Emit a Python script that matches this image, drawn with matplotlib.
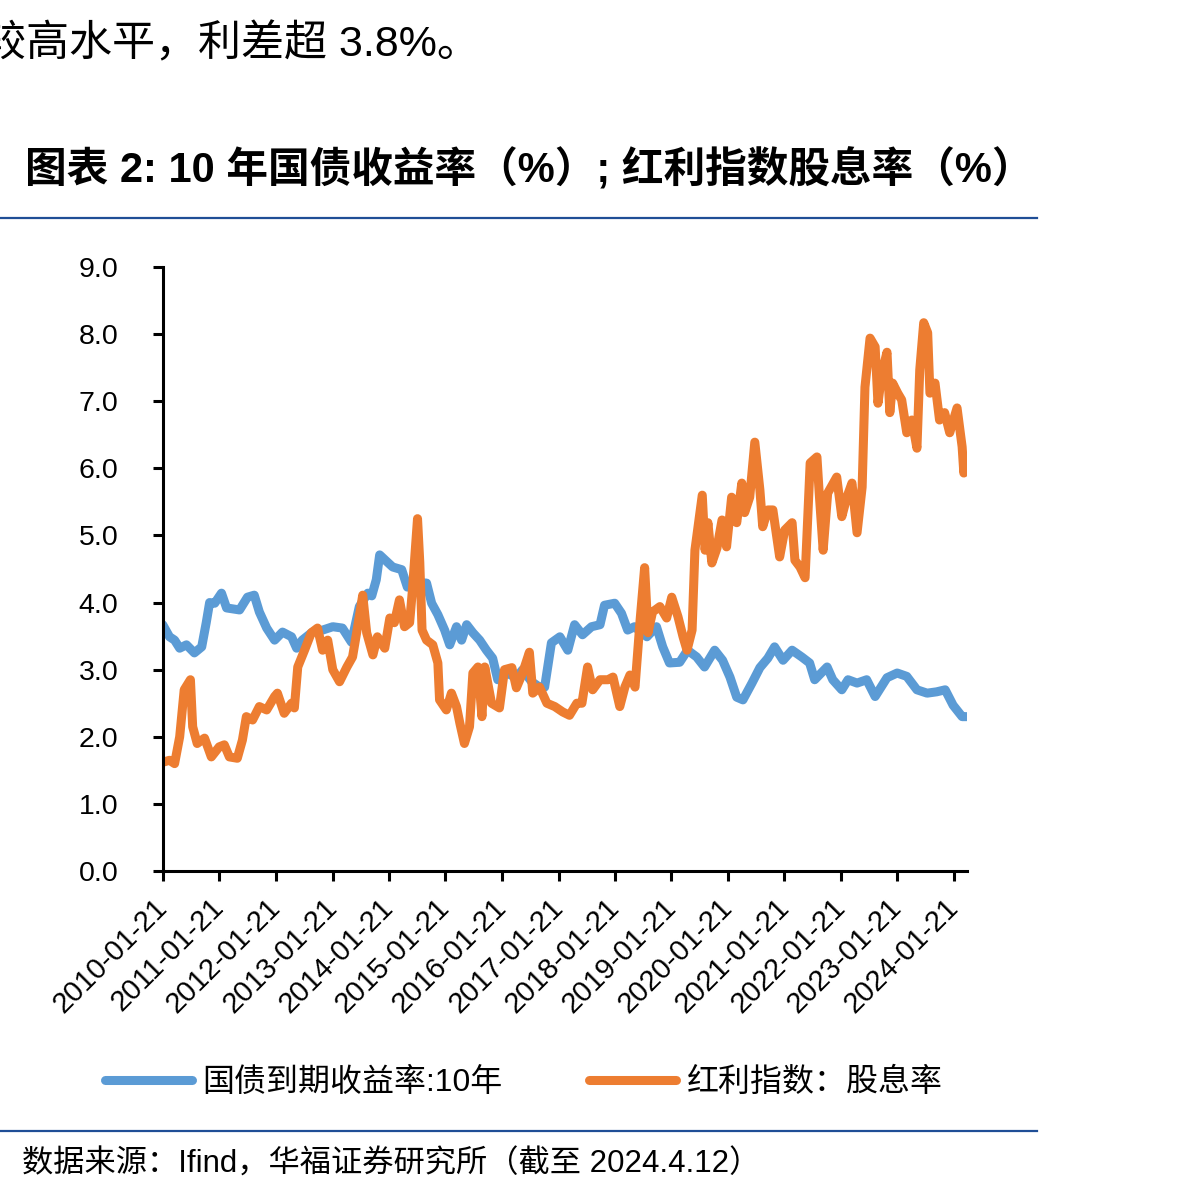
import numpy as np
import pandas as pd
import matplotlib
matplotlib.use('Agg')
import matplotlib.pyplot as plt
from matplotlib.lines import Line2D

plt.rcParams['font.family'] = ['Liberation Sans', 'Noto Sans CJK SC', 'DejaVu Sans']

# 10y government bond yield (decimal year, %)
bond_t = [2010.05, 2010.17, 2010.26, 2010.35, 2010.47, 2010.61, 2010.74, 2010.82, 2010.88, 2010.97,
          2011.09, 2011.18, 2011.41, 2011.55, 2011.67, 2011.76, 2011.89, 2012.03, 2012.17, 2012.33,
          2012.42, 2012.52, 2012.70, 2012.88, 2013.06, 2013.23, 2013.39, 2013.53, 2013.68, 2013.75,
          2013.83, 2013.89, 2014.03, 2014.12, 2014.28, 2014.38, 2014.53, 2014.72, 2014.81, 2014.92,
          2015.04, 2015.13, 2015.25, 2015.34, 2015.43, 2015.54, 2015.66, 2015.78, 2015.89, 2015.98,
          2016.14, 2016.31, 2016.42, 2016.58, 2016.72, 2016.81, 2016.93, 2017.08, 2017.22, 2017.34,
          2017.48, 2017.64, 2017.79, 2017.87, 2018.05, 2018.17, 2018.28, 2018.40, 2018.62, 2018.79,
          2018.90, 2019.02, 2019.20, 2019.34, 2019.50, 2019.64, 2019.82, 2019.96, 2020.09, 2020.21,
          2020.32, 2020.48, 2020.62, 2020.76, 2020.88, 2021.03, 2021.19, 2021.36, 2021.50, 2021.59,
          2021.81, 2021.91, 2022.07, 2022.18, 2022.34, 2022.51, 2022.66, 2022.87, 2023.05, 2023.22,
          2023.40, 2023.58, 2023.75, 2023.90, 2024.04, 2024.20, 2024.28]
bond_v = [3.67, 3.49, 3.44, 3.32, 3.37, 3.25, 3.34, 3.70, 4.00, 3.99,
          4.14, 3.92, 3.89, 4.08, 4.11, 3.86, 3.62, 3.44, 3.56, 3.49,
          3.32, 3.44, 3.56, 3.59, 3.64, 3.62, 3.41, 3.94, 4.14, 4.10,
          4.34, 4.71, 4.60, 4.53, 4.49, 4.23, 4.30, 4.29, 3.99, 3.82,
          3.59, 3.37, 3.64, 3.44, 3.67, 3.55, 3.44, 3.29, 3.17, 2.85,
          2.95, 2.88, 3.00, 2.82, 2.74, 2.74, 3.40, 3.49, 3.29, 3.67,
          3.52, 3.64, 3.67, 3.96, 3.99, 3.84, 3.59, 3.64, 3.49, 3.64,
          3.34, 3.10, 3.11, 3.29, 3.19, 3.04, 3.29, 3.14, 2.89, 2.59,
          2.55, 2.80, 3.03, 3.17, 3.34, 3.14, 3.29, 3.19, 3.10, 2.85,
          3.04, 2.85, 2.70, 2.85, 2.80, 2.85, 2.60, 2.88, 2.95, 2.90,
          2.70, 2.65, 2.67, 2.70, 2.47, 2.30, 2.30]

# dividend index dividend yield (decimal year, %)
div_t = [2010.05, 2010.17, 2010.26, 2010.35, 2010.43, 2010.54, 2010.58, 2010.66, 2010.79, 2010.91,
         2011.05, 2011.14, 2011.23, 2011.37, 2011.46, 2011.53, 2011.64, 2011.76, 2011.89, 2012.03,
         2012.08, 2012.20, 2012.33, 2012.38, 2012.44, 2012.56, 2012.68, 2012.79, 2012.88, 2012.97,
         2013.06, 2013.18, 2013.31, 2013.41, 2013.50, 2013.59, 2013.66, 2013.77, 2013.85, 2013.98,
         2014.07, 2014.15, 2014.24, 2014.33, 2014.42, 2014.47, 2014.53, 2014.56, 2014.60, 2014.64,
         2014.72, 2014.83, 2014.92, 2014.95, 2015.07, 2015.16, 2015.25, 2015.31, 2015.39, 2015.48,
         2015.54, 2015.63, 2015.70, 2015.75, 2015.87, 2016.01, 2016.10, 2016.23, 2016.31, 2016.42,
         2016.54, 2016.60, 2016.72, 2016.85, 2016.99, 2017.13, 2017.25, 2017.38, 2017.47, 2017.57,
         2017.66, 2017.79, 2017.93, 2018.02, 2018.14, 2018.23, 2018.32, 2018.41, 2018.50, 2018.58,
         2018.64, 2018.72, 2018.85, 2018.97, 2019.06, 2019.17, 2019.26, 2019.33, 2019.42, 2019.47,
         2019.60, 2019.65, 2019.70, 2019.77, 2019.86, 2019.95, 2020.03, 2020.12, 2020.21, 2020.30,
         2020.35, 2020.44, 2020.53, 2020.62, 2020.67, 2020.76, 2020.85, 2020.97, 2021.06, 2021.19,
         2021.24, 2021.33, 2021.42, 2021.51, 2021.63, 2021.67, 2021.74, 2021.82, 2021.98, 2022.07,
         2022.16, 2022.25, 2022.34, 2022.43, 2022.48, 2022.57, 2022.66, 2022.71, 2022.78, 2022.87,
         2022.92, 2022.97, 2023.06, 2023.13, 2023.22, 2023.31, 2023.40, 2023.45, 2023.52, 2023.59,
         2023.63, 2023.72, 2023.80, 2023.89, 2023.98, 2024.11, 2024.20, 2024.23, 2024.28]
div_v = [1.62, 1.65, 1.60, 2.00, 2.70, 2.85, 2.15, 1.90, 1.98, 1.70,
         1.85, 1.88, 1.70, 1.68, 1.95, 2.30, 2.25, 2.45, 2.40, 2.60,
         2.65, 2.35, 2.50, 2.43, 3.04, 3.29, 3.55, 3.62, 3.29, 3.44,
         3.00, 2.82, 3.04, 3.19, 3.64, 4.11, 3.55, 3.22, 3.49, 3.32,
         3.77, 3.70, 4.04, 3.64, 3.70, 4.19, 4.90, 5.25, 4.60, 3.59,
         3.44, 3.37, 3.10, 2.55, 2.40, 2.65, 2.45, 2.20, 1.90, 2.15,
         2.95, 3.04, 2.30, 3.04, 2.50, 2.43, 3.00, 3.03, 2.73, 2.95,
         3.26, 2.65, 2.74, 2.50, 2.45, 2.37, 2.32, 2.50, 2.50, 3.04,
         2.70, 2.85, 2.85, 2.89, 2.45, 2.74, 2.92, 2.74, 3.74, 4.52,
         3.55, 3.86, 3.94, 3.77, 4.08, 3.79, 3.49, 3.29, 3.59, 4.78,
         5.60, 4.78, 5.19, 4.59, 4.81, 5.23, 4.83, 5.57, 5.19, 5.78,
         5.34, 5.57, 6.39, 5.68, 5.13, 5.38, 5.38, 4.68, 5.08, 5.19,
         4.63, 4.53, 4.37, 6.08, 6.17, 5.63, 4.78, 5.63, 5.87, 5.28,
         5.57, 5.78, 5.04, 5.72, 7.21, 7.94, 7.81, 6.97, 7.42, 7.73,
         6.83, 7.27, 7.12, 7.02, 6.53, 6.72, 6.30, 7.47, 8.17, 8.02,
         7.12, 7.27, 6.72, 6.83, 6.53, 6.90, 6.32, 5.93, 6.17]

tick_years = list(range(2010, 2025))
tick_labels = [f'{y}-01-21' for y in tick_years]


def to_date(years):
    years = np.asarray(years)
    return pd.Timestamp('2010-01-01') + pd.to_timedelta((years - 2010) * 365.25, unit='D')


W, H = 1185, 1195
fig = plt.figure(figsize=(W / 100, H / 100), dpi=100)
ax = fig.add_axes([163 / W, 1 - 871 / H, (967 - 163) / W, (871 - 267) / H])

ax.plot(to_date(bond_t), bond_v, color='#5B9BD5', lw=6.5, solid_capstyle='round',
        solid_joinstyle='round', label='国债到期收益率:10年')
ax.plot(to_date(div_t), div_v, color='#ED7D31', lw=6.5, solid_capstyle='round',
        solid_joinstyle='round', label='红利指数：股息率')

ax.set_ylim(0, 9)
ax.set_yticks(np.arange(0, 10, 1))
ax.set_yticklabels([f'{v:.1f}' for v in np.arange(0, 10, 1)])
ax.set_xlim(pd.Timestamp('2010-01-21'), pd.Timestamp('2024-04-15'))
ax.set_xticks([pd.Timestamp(f'{y}-01-21') for y in tick_years])
ax.set_xticklabels(tick_labels, rotation=45, ha='right', va='center', rotation_mode='anchor')

for s in ['top', 'right']:
    ax.spines[s].set_visible(False)
for s in ['left', 'bottom']:
    ax.spines[s].set_linewidth(2.2)
ax.tick_params(axis='y', length=7, width=2.2, pad=25, labelsize=20.5)
ax.tick_params(axis='x', length=7, width=2.2, pad=16, labelsize=21)

# header text
fig.text(-17 / W, 1 - 45 / H, '较高水平，利差超 3.8%。', fontsize=31, va='center', ha='left')
fig.text(25 / W, 1 - 170 / H, '图表 2: 10 年国债收益率（%）; 红利指数股息率（%）',
         fontsize=30, fontweight='bold', va='center', ha='left')

rule = '#1F4E96'
fig.add_artist(Line2D([0, 1037 / W], [1 - 218 / H] * 2, color=rule, lw=1.6))
fig.add_artist(Line2D([0, 1037 / W], [1 - 1131 / H] * 2, color=rule, lw=1.6))

fig.legend(loc='center', bbox_to_anchor=(524 / W, 1 - 1083 / H), ncol=2, frameon=False,
           fontsize=23, handlelength=2.7, handletextpad=0.35, columnspacing=2.7)

fig.text(22 / W, 1 - 1165 / H, '数据来源：Ifind，华福证券研究所（截至 2024.4.12）',
         fontsize=22.5, va='center', ha='left')

fig.savefig('out.png', dpi=100)
